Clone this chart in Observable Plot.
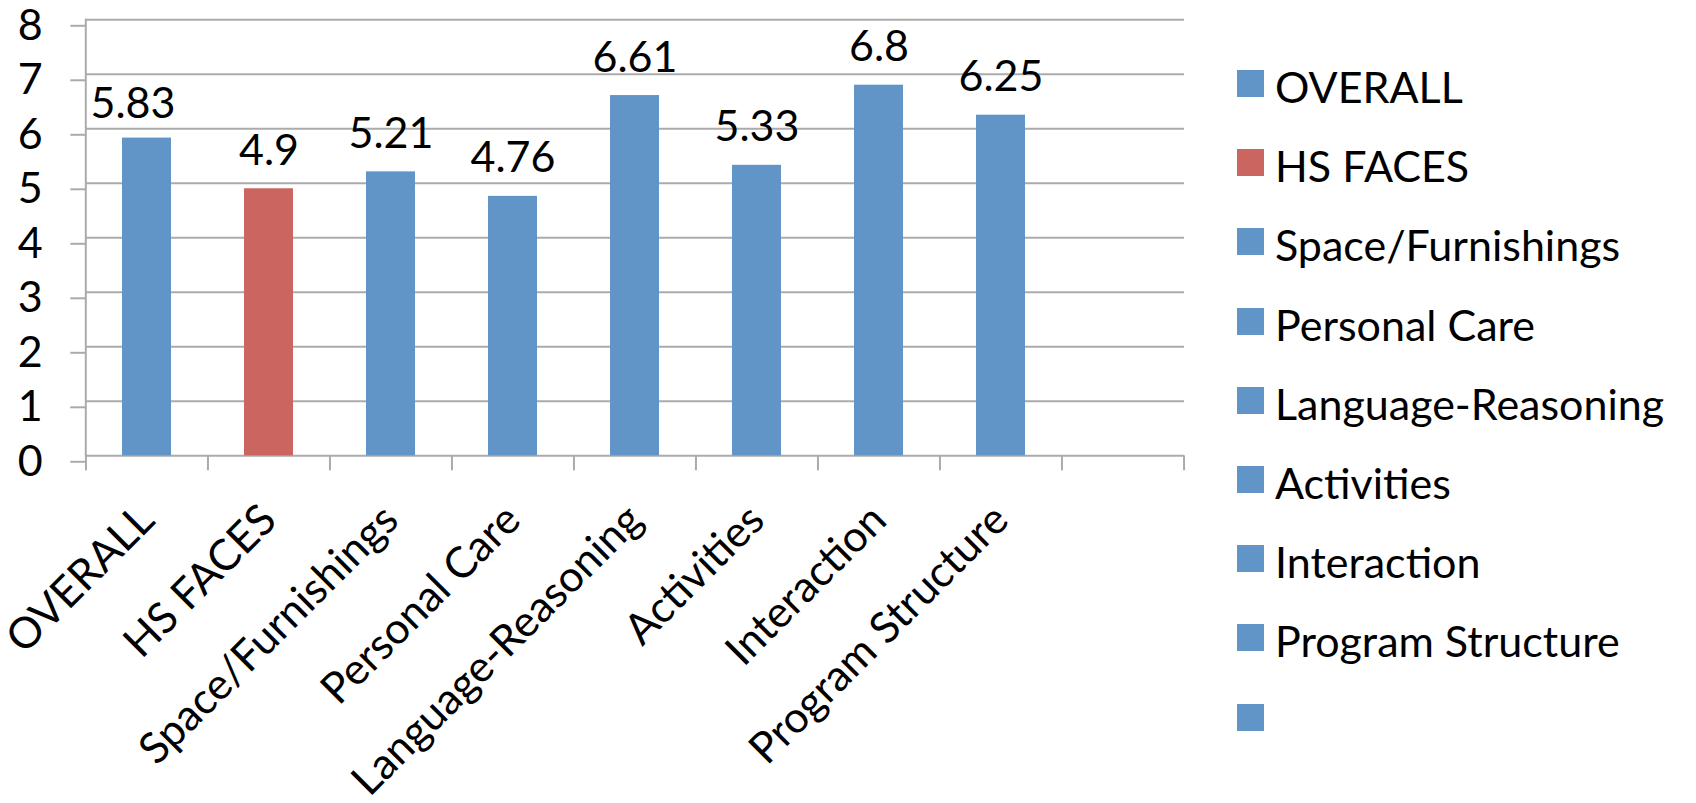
<!DOCTYPE html>
<html>
<head>
<meta charset="utf-8">
<script src="https://cdn.jsdelivr.net/npm/d3@7"></script>
<script src="https://cdn.jsdelivr.net/npm/@observablehq/plot@0.6"></script>
<style>
  html, body { margin: 0; background: #fff; }
  #chart { position: relative; width: 1696px; height: 803px; font-family: Lato, "Open Sans", sans-serif; color: #000; }
  #plot { position: absolute; left: 0; top: 0; }
  #legend { position: absolute; left: 1237px; top: 47px; }
  .item { display: flex; align-items: center; height: 79.2px; font-size: 43px; white-space: nowrap; }
  .swatch { width: 27px; height: 27px; margin-right: 11px; transform: translateY(-3px); }
</style>
</head>
<body>
<div id="chart"><div id="plot"></div><div id="legend"></div></div>
<script>
// ECERS scores by subscale; the last category slot is left empty
const categories = ["OVERALL", "HS FACES", "Space/Furnishings", "Personal Care",
  "Language-Reasoning", "Activities", "Interaction", "Program Structure", ""];
const scores = [5.83, 4.9, 5.21, 4.76, 6.61, 5.33, 6.8, 6.25];
const highlighted = "HS FACES";
const yTicks = [0, 1, 2, 3, 4, 5, 6, 7, 8];

const blue = "#6195C8";
const red = "#CB655F";
const gridColor = "#ABABAB";
const fontSize = 43;

const rows = scores.map((v, i) => ({category: categories[i], score: v}));
const group = d => d.category === highlighted ? "highlight" : "base";

const W = 1220, H = 803;
const mLeft = 85.3, mRight = W - 1184, mTop = 19.3, mBottom = H - 455.3;
const step = (W - mLeft - mRight) / categories.length;

const tickOpts = {stroke: gridColor, strokeWidth: 2, tickSize: 15, tickFormat: () => "", label: null};

const chart = Plot.plot({
  width: W,
  height: H,
  marginLeft: mLeft,
  marginRight: mRight,
  marginTop: mTop,
  marginBottom: mBottom,
  style: {fontFamily: "Lato, 'Open Sans', sans-serif", color: "#000", background: "#fff", overflow: "visible"},
  x: {type: "band", domain: categories, paddingInner: 0.6, paddingOuter: 0.3, axis: null},
  y: {domain: [0, 8], axis: null},
  color: {domain: ["base", "highlight"], range: [blue, red]},
  marks: [
    Plot.gridY(yTicks, {stroke: gridColor, strokeOpacity: 1, strokeWidth: 2}),
    Plot.frame({anchor: "left", stroke: gridColor, strokeWidth: 2}),
    Plot.axisY({ticks: yTicks, tickSize: 15, tickPadding: 28, stroke: gridColor, strokeWidth: 2,
      fill: "#000", fontSize, label: null, dy: 6, tickFormat: d => String(d)}),
    // category boundary ticks below the baseline
    Plot.axisX({...tickOpts, ticks: categories, dx: -step / 2}),
    Plot.axisX({...tickOpts, ticks: [categories[categories.length - 1]], dx: step / 2}),
    Plot.barY(rows, {x: "category", y: "score", fill: group}),
    // value labels
    Plot.text(rows.slice(0, 1), {x: "category", y: "score", text: d => String(d.score),
      lineAnchor: "bottom", dy: -20, dx: -14, fontSize, fill: "#000"}),
    Plot.text(rows.slice(1), {x: "category", y: "score", text: d => String(d.score),
      lineAnchor: "bottom", dy: -24, fontSize, fill: "#000"}),
    // rotated category labels
    Plot.text(categories, {x: d => d, text: d => d, frameAnchor: "bottom", dy: 57,
      rotate: -45, textAnchor: "end", lineAnchor: "middle", fontSize, fill: "#000"})
  ]
});
document.getElementById("plot").appendChild(chart);

// legend: one entry per category slot
const legend = d3.select("#legend");
categories.forEach(c => {
  const item = legend.append("div").attr("class", "item");
  item.append("div").attr("class", "swatch").style("background", c === highlighted ? red : blue);
  item.append("span").text(c);
});
</script>
</body>
</html>
